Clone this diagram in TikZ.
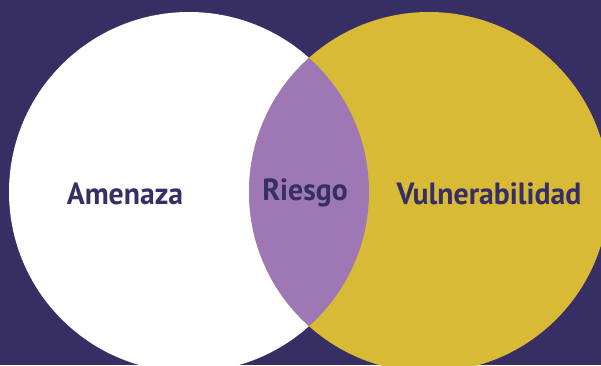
\documentclass[tikz,border=0pt]{standalone}
\usepackage{fontspec}
\setmainfont{PT Sans}[FakeStretch=0.97]
\definecolor{fondo}{RGB}{55,47,100}
\definecolor{amarillo}{RGB}{216,186,55}
\definecolor{lila}{RGB}{158,120,180}
\tikzset{every picture/.style={line width=0.75pt}}
\tikzset{etiqueta/.style={inner sep=0.75pt, text=fondo, font=\fontsize{23}{25}\selectfont\bfseries}}

\begin{document}
\begin{tikzpicture}[x=0.75pt,y=0.75pt,yscale=-1,xscale=1]
	%fondo del diagrama
	\clip (0,0) rectangle (601,365);
	\fill [fondo] (0,0) rectangle (601,365);
	
	%Circulo amenaza
	\fill [white] (189,192) circle (180);
	%Circulo vulnerabilidad
	\fill [amarillo] (429,192) circle (180);
	%Interseccion
	\begin{scope}
		\clip (189,192) circle (180);
		\fill [lila] (429,192) circle (180);
	\end{scope}
	
	% Text Node
	\node [etiqueta, anchor=base] (amenaza) at (125,204) {Amenaza};
	% Text Node
	\node [etiqueta, anchor=base] (riesgo) at (305,200) {Riesgo};
	% Text Node
	\node [etiqueta, anchor=base] (vulnerabilidad) at (489,204) {Vulnerabilidad};
	
\end{tikzpicture}
\end{document}
